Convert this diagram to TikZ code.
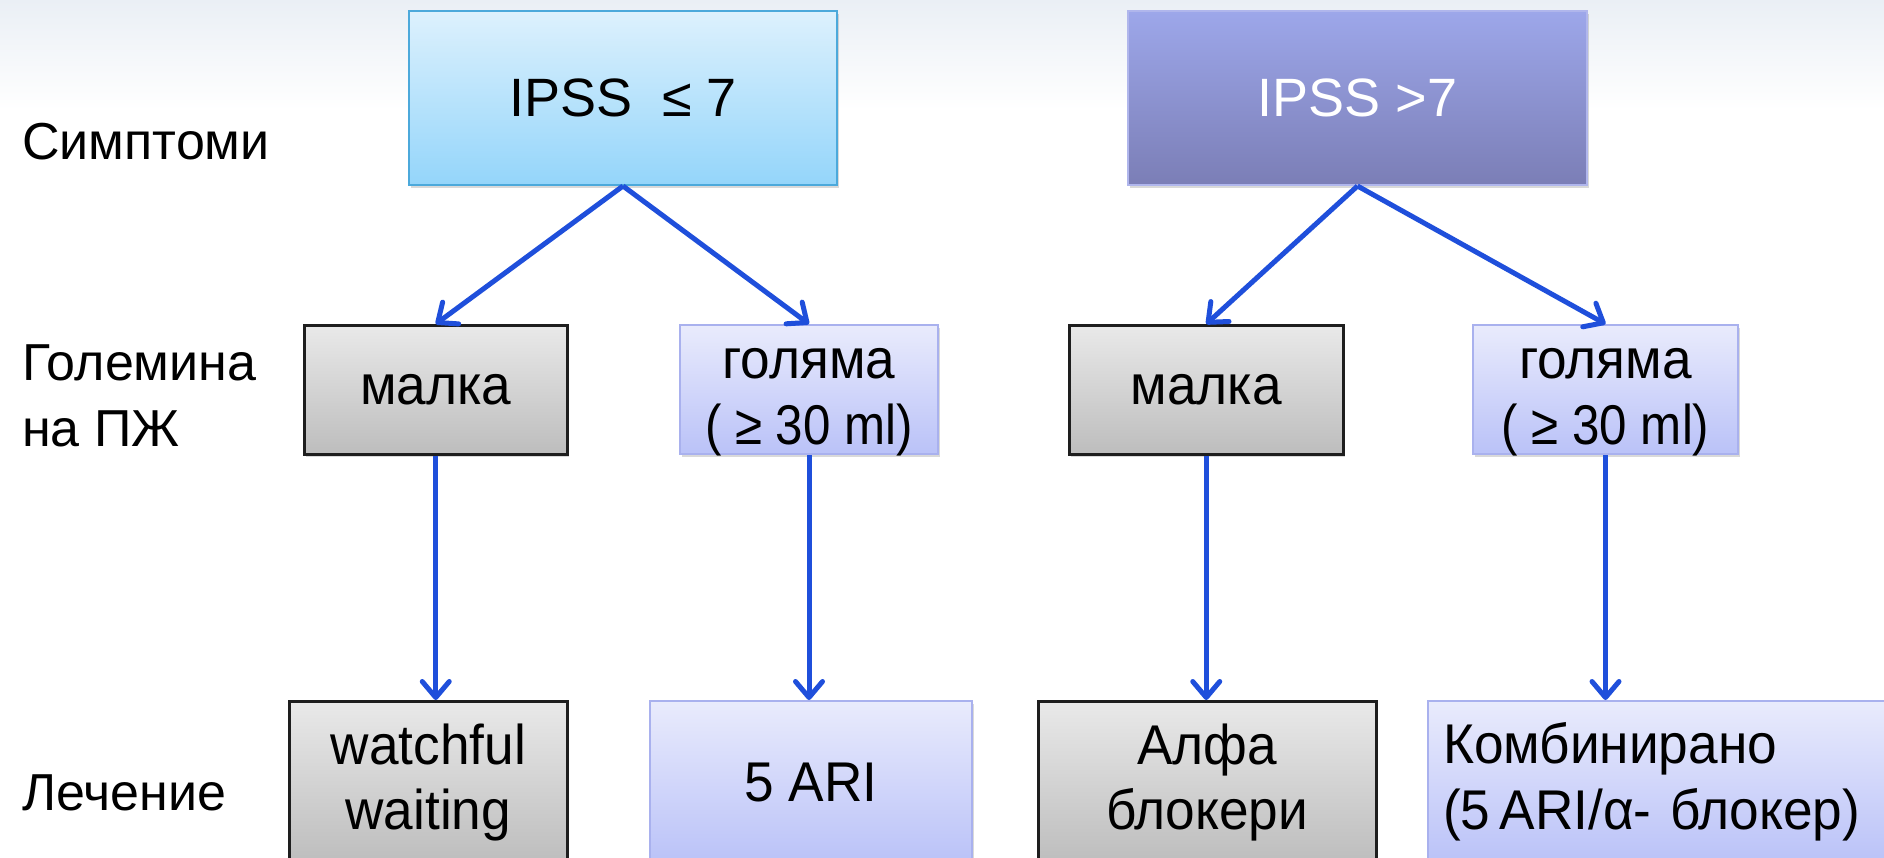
\documentclass[tikz,border=0pt]{standalone}
\usepackage{fontspec}
\setmainfont{Liberation Sans}
\newfontfamily\narrowfont[FakeStretch=0.95]{Liberation Sans}
\newfontfamily\narrowerfont[FakeStretch=0.88]{Liberation Sans}
\usetikzlibrary{arrows.meta,shadows}
\definecolor{bgtop}{HTML}{EAEFF5}
\definecolor{arrowblue}{HTML}{1F4FDB}
\definecolor{ctopA}{HTML}{DDF1FD}
\definecolor{cbotA}{HTML}{94D5FA}
\definecolor{cdrawA}{HTML}{4CA9DB}
\definecolor{ctopB}{HTML}{9DA7EA}
\definecolor{cbotB}{HTML}{7B7EB6}
\definecolor{cdrawB}{HTML}{B0B6EC}
\definecolor{ctopG}{HTML}{E9E9E9}
\definecolor{cbotG}{HTML}{BDBDBD}
\definecolor{cdrawG}{HTML}{1E1E1E}
\definecolor{ctopL}{HTML}{E9EBFC}
\definecolor{cbotL}{HTML}{BAC2F8}
\definecolor{cdrawL}{HTML}{A9B1EE}
\begin{document}
\begin{tikzpicture}[x=1pt,y=-1pt,
  box/.style={anchor=north west, align=center, inner sep=0pt,
    drop shadow={opacity=0.3,shadow xshift=2pt,shadow yshift=-3pt}},
  topA/.style={box, draw=cdrawA, line width=2pt, top color=ctopA, bottom color=cbotA,
    font=\fontsize{54}{62}\selectfont},
  topB/.style={box, draw=cdrawB, line width=2pt, top color=ctopB, bottom color=cbotB,
    text=white, font=\fontsize{54}{62}\selectfont},
  greybox/.style={box, draw=cdrawG, line width=2.5pt, top color=ctopG, bottom color=cbotG,
    font=\narrowfont\fontsize{56}{65}\selectfont},
  lavbox/.style={box, draw=cdrawL, line width=2pt, top color=ctopL, bottom color=cbotL,
    font=\narrowfont\fontsize{56}{66}\selectfont},
  lavtext/.style={align=center, inner sep=0pt, yshift=-13pt,
    font=\narrowfont\fontsize{56}{66}\selectfont},
  rowlabel/.style={anchor=west, align=left, inner sep=0pt, font=\fontsize{52}{66}\selectfont},
  arr/.style={draw=arrowblue, line width=5pt,
    -{Straight Barb[length=16pt,width=27pt,round]}}
]
\useasboundingbox (0,0) rectangle (1884,857);
\clip (0,0) rectangle (1884,857);
\shade[top color=bgtop, bottom color=white] (0,0) rectangle (1884,110);

% row labels
\node[rowlabel] (l1) at (22,142) {Симптоми};
\node[rowlabel] (l2) at (22,396) {Големина\\на ПЖ};
\node[rowlabel] (l3) at (22,793) {Лечение};

% top boxes
\node[topA, minimum width=428pt, minimum height=174pt] (ipss1) at (408,10) {IPSS\ \ ≤ 7};
\node[topB, minimum width=459pt, minimum height=174pt] (ipss2) at (1127,10) {IPSS >7};

% middle boxes
\node[greybox, minimum width=263pt, minimum height=129pt] (m1) at (303,324) {малка};
\node[lavbox, minimum width=258pt, minimum height=129pt,
  label={[lavtext]center:{голяма\\{\narrowerfont ( ≥ 30 ml)}}}] (g1) at (679,324) {};
\node[greybox, minimum width=274pt, minimum height=129pt] (m2) at (1068,324) {малка};
\node[lavbox, minimum width=265pt, minimum height=129pt,
  label={[lavtext]center:{голяма\\{\narrowerfont ( ≥ 30 ml)}}}] (g2) at (1472,324) {};

% bottom boxes
\node[greybox, minimum width=278pt, minimum height=162pt] (t1) at (288,700) {watchful\\waiting};
\node[lavbox, minimum width=322pt, minimum height=162pt] (t2) at (649,700) {5 ARI};
\node[greybox, minimum width=338pt, minimum height=162pt] (t3) at (1037,700) {Алфа\\блокери};
\node[lavbox, minimum width=470pt, minimum height=162pt, text width=440pt, align=left] (t4) at (1427,700)
  {Комбинирано\\(5\,ARI/α- блокер)};

% connectors
\draw[arr] (ipss1.south) -- (m1.north);
\draw[arr] (ipss1.south) -- (g1.north);
\draw[arr] (ipss2.south) -- (m2.north);
\draw[arr] (ipss2.south) -- (g2.north);
\draw[arr] (m1.south) -- (m1.south |- t1.north);
\draw[arr] (g1.south) -- (g1.south |- t2.north);
\draw[arr] (m2.south) -- (m2.south |- t3.north);
\draw[arr] (g2.south) -- (g2.south |- t4.north);
\end{tikzpicture}
\end{document}
